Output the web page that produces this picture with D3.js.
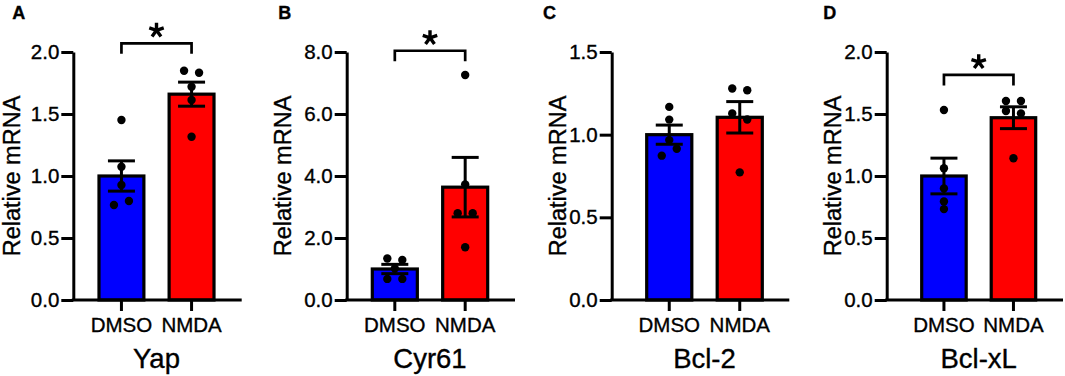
<!DOCTYPE html>
<html>
<head>
<meta charset="utf-8">
<script src="https://cdn.jsdelivr.net/npm/d3@7"></script>
<style>
  body { margin: 0; background: #fff; }
  text { font-family: "Liberation Sans", Arial, sans-serif; fill: #000; stroke: #000; stroke-width: 0.35px; }
</style>
</head>
<body>
<script>
// data
const genes = ["Yap", "Cyr61", "Bcl-2", "Bcl-xL"];
const panelLetters = ["A", "B", "C", "D"];
const groups = ["DMSO", "NMDA"];
const yMax = [2.0, 8.0, 1.5, 2.0];
const yTicks = [
  [0, 0.5, 1.0, 1.5, 2.0],
  [0, 2, 4, 6, 8],
  [0, 0.5, 1.0, 1.5],
  [0, 0.5, 1.0, 1.5, 2.0]
];
const means = [[1.00, 1.66], [1.00, 3.64], [1.00, 1.105], [1.00, 1.47]];
const sems = [[0.122, 0.097], [0.15, 0.96], [0.058, 0.095], [0.144, 0.088]];
const points = [
  [[1.452, 1.075, 0.927, 0.766, 0.798], [1.849, 1.833, 1.72, 1.613, 1.317]],
  [[1.34, 1.29, 1.02, 0.68, 0.68], [7.26, 3.73, 2.80, 2.80, 1.70]],
  [[1.168, 1.091, 0.967, 0.873, 0.915], [1.279, 1.269, 1.128, 1.092, 0.772]],
  [[1.532, 1.062, 0.90, 0.795, 0.733], [1.605, 1.605, 1.524, 1.505, 1.143]]
];
const significant = [true, true, false, true];
const bracketLevel = [2.07, 8.04, null, 1.815];

// layout of the four panels
const layout = [
  { axisX: 73.3, axisEnd: 241.7, barsStart: 99, barsEnd: 214, labelX: 11.7, letterX: 12.3 },
  { axisX: 346.7, axisEnd: 515, barsStart: 372.3, barsEnd: 487.7, labelX: 283.3, letterX: 278.3 },
  { axisX: 611.7, axisEnd: 789.3, barsStart: 646.7, barsEnd: 762.3, labelX: 558.3, letterX: 543 },
  { axisX: 886.7, axisEnd: 1063, barsStart: 921.7, barsEnd: 1035.7, labelX: 833.3, letterX: 823.3 }
];
const colors = ["#0000ff", "#ff0000"];
const width = 1065, height = 376;
const y0 = 300, y1 = 52;
const dotR = 4.2;
const font = "'Liberation Sans', Arial, sans-serif";

const svg = d3.select("body").append("svg")
  .attr("width", width)
  .attr("height", height);

// stack dots that would overlap side by side, like a small beeswarm
function swarm(vals, y) {
  const order = vals.map((v, i) => i).sort((a, b) => vals[b] - vals[a]);
  const rows = [];
  order.forEach(i => {
    const last = rows.length ? rows[rows.length - 1] : null;
    if (last && Math.abs(y(vals[last[last.length - 1]]) - y(vals[i])) < 7.2) last.push(i);
    else rows.push([i]);
  });
  const off = new Array(vals.length).fill(0);
  rows.forEach(r => {
    r.sort((a, b) => a - b);
    r.forEach((i, k) => { off[i] = (k - (r.length - 1) / 2) * 15; });
  });
  return vals.map((v, i) => ({ v: v, dx: off[i] }));
}

// five armed asterisk for the significance mark
function starPath(cx, cy, a) {
  let d = "";
  for (let k = 0; k < 5; k++) {
    const ang = -Math.PI / 2 + k * 2 * Math.PI / 5;
    d += `M${cx},${cy}L${cx + a * Math.cos(ang)},${cy + a * Math.sin(ang)}`;
  }
  return d;
}

genes.forEach((gene, p) => {
  const L = layout[p];
  const g = svg.append("g");

  const y = d3.scaleLinear().domain([0, yMax[p]]).range([y0, y1]);
  const x = d3.scaleBand().domain(groups).range([L.barsStart, L.barsEnd]).paddingInner(0.36);

  // bars
  g.selectAll("rect.bar")
    .data(groups)
    .join("rect")
    .attr("x", d => x(d))
    .attr("y", (d, i) => y(means[p][i]))
    .attr("width", x.bandwidth())
    .attr("height", (d, i) => y0 - y(means[p][i]))
    .attr("fill", (d, i) => colors[i])
    .attr("stroke", "#000")
    .attr("stroke-width", 3.2);

  // error bars (mean +/- SEM)
  groups.forEach((grp, i) => {
    const cx = x(grp) + x.bandwidth() / 2;
    const top = y(means[p][i] + sems[p][i]);
    const bot = y(means[p][i] - sems[p][i]);
    g.append("line").attr("x1", cx).attr("x2", cx).attr("y1", top).attr("y2", bot)
      .attr("stroke", "#000").attr("stroke-width", 3);
    [top, bot].forEach(yy => {
      g.append("line").attr("x1", cx - 13.5).attr("x2", cx + 13.5).attr("y1", yy).attr("y2", yy)
        .attr("stroke", "#000").attr("stroke-width", 3);
    });

    // individual points
    g.selectAll("circle.g" + i)
      .data(swarm(points[p][i], y))
      .join("circle")
      .attr("class", "g" + i)
      .attr("cx", d => cx + d.dx)
      .attr("cy", d => y(d.v))
      .attr("r", dotR)
      .attr("fill", "#000");
  });

  // y axis
  const yAxis = g.append("g")
    .attr("transform", `translate(${L.axisX},0)`)
    .call(d3.axisLeft(y).tickValues(yTicks[p]).tickFormat(d3.format(".1f"))
      .tickSize(12).tickSizeOuter(0).tickPadding(2));
  yAxis.select(".domain").attr("stroke-width", 3);
  yAxis.selectAll(".tick line").attr("stroke-width", 3);
  yAxis.selectAll("text").style("font-size", "20.5px")
    .style("font-family", font).attr("fill", "#000");

  // x axis
  const xAxis = g.append("g")
    .attr("transform", `translate(0,${y0})`)
    .call(d3.axisBottom(x).tickSize(11).tickPadding(6.5));
  xAxis.select(".domain").remove();
  xAxis.selectAll(".tick line").attr("stroke-width", 3);
  xAxis.selectAll("text").style("font-size", "20.5px")
    .style("font-family", font).attr("fill", "#000");
  g.append("line")
    .attr("x1", L.axisX - 1.5).attr("x2", L.axisEnd)
    .attr("y1", y0).attr("y2", y0)
    .attr("stroke", "#000").attr("stroke-width", 3);

  // axis titles
  g.append("text")
    .attr("transform", `translate(${L.labelX},${(y0 + y1) / 2}) rotate(-90)`)
    .attr("text-anchor", "middle")
    .attr("dominant-baseline", "central")
    .style("font-size", "23.5px")
    .text("Relative mRNA");

  g.append("text")
    .attr("x", (L.barsStart + L.barsEnd) / 2)
    .attr("y", 368)
    .attr("text-anchor", "middle")
    .style("font-size", "27.5px")
    .text(gene);

  // panel letter
  g.append("text")
    .attr("x", L.letterX)
    .attr("y", 18.5)
    .style("font-size", "18px")
    .style("font-weight", "bold")
    .text(panelLetters[p]);

  // significance bracket
  if (significant[p]) {
    const xa = x(groups[0]) + x.bandwidth() / 2;
    const xb = x(groups[1]) + x.bandwidth() / 2;
    const yb = y(bracketLevel[p]);
    g.append("path")
      .attr("d", `M${xa},${yb + 10.5}V${yb}H${xb}V${yb + 10.5}`)
      .attr("fill", "none")
      .attr("stroke", "#000")
      .attr("stroke-width", 2.7);
    g.append("path")
      .attr("d", starPath((xa + xb) / 2, yb - 13, 7.6))
      .attr("fill", "none")
      .attr("stroke", "#000")
      .attr("stroke-width", 3.4);
  }
});
</script>
</body>
</html>
